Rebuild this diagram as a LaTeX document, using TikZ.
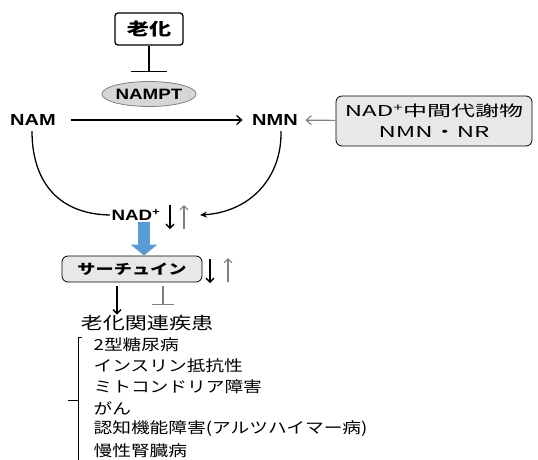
\documentclass[tikz,border=0pt]{standalone}
\usepackage{fontspec}
\setmainfont{Liberation Sans}
\newfontfamily\lat{Liberation Sans}[FakeStretch=1.25]
\newfontfamily\jp{Noto Sans CJK JP}[FakeStretch=1.3]
\newfontfamily\jpl{Noto Sans CJK JP}[FakeStretch=1.23]
\newfontfamily\jpw{Noto Sans CJK JP}[FakeStretch=1.6]
\usetikzlibrary{arrows.meta,shapes.geometric,positioning}

\definecolor{boxgray}{RGB}{232,232,232}
\definecolor{ovalgray}{RGB}{214,214,214}
\definecolor{arrgray}{RGB}{128,128,128}
\definecolor{sirtblue}{RGB}{91,155,213}

\tikzset{
  mol/.style={font=\lat\bfseries\fontsize{16}{18}\selectfont, inner sep=1pt},
  graybox/.style={draw, rounded corners=6pt, fill=boxgray, line width=0.8pt},
  barb/.style={-{Straight Barb[length=5pt,width=9pt]}},
  updown/.style={line width=1.4pt, -{Straight Barb[length=4pt,width=8pt]}},
  item/.style={anchor=west, inner sep=0pt, font=\jpl\fontsize{15.2}{15.2}\selectfont},
}

\begin{document}
\begin{tikzpicture}[x=1pt,y=-1pt,line width=1.3pt]
\useasboundingbox (0,0) rectangle (538,459);

% aging and NAMPT
\node[draw, rounded corners=3pt, minimum width=68pt, minimum height=32pt,
      font=\jp\bfseries\fontsize{17}{17}\selectfont] (aging) at (149,29) {老化};
\node[ellipse, draw=arrgray, line width=0.8pt, fill=ovalgray, minimum width=88pt,
      minimum height=25pt, inner sep=0pt,
      font=\lat\bfseries\fontsize{15}{15}\selectfont] (nampt) at (149,94) {NAMPT};
\coordinate (agingbar) at (149,72);
\draw[-{Bar[width=36pt]}] (aging) -- (agingbar);

% NAM -> NMN
\node[mol] (nam) at (33,120) {NAM};
\node[mol] (nmn) at (275,120) {NMN};
\draw[barb, shorten <=14pt, shorten >=8pt] (nam) -- (nmn);

\node[graybox, minimum width=196pt, minimum height=50pt, align=center,
      font=\jpw\fontsize{15}{21}\selectfont] (precursor) at (434,121)
      {NAD\textsuperscript{+}中間代謝物\\NMN・NR};
\draw[barb, arrgray, line width=1.2pt, shorten >=6pt] (precursor) -- (nmn);

% salvage loop
\node[mol, font=\lat\bfseries\fontsize{15}{16}\selectfont] (nad) at (136,215) {NAD\textsuperscript{+}};
\coordinate (nadin) at (200,215);
\draw (nam.south) ++(-1,4) .. controls (32,178) and (55,214) .. (nad.west);
\draw[-{Stealth[length=7pt,width=6pt]}] (nmn.south) ++(6,4) .. controls (282,178) and (250,212) .. (nadin);

% NAD+ level
\coordinate (nadd) at (170,205);
\coordinate (nadu) at (184,229);
\draw[updown] (nadd) -- ++(0,24);
\draw[updown, arrgray, line width=1.1pt] (nadu) -- ++(0,-24);

% sirtuin
\node[graybox, minimum width=140pt, minimum height=26pt,
      font=\jp\bfseries\fontsize{14}{14}\selectfont] (sirt) at (132,269) {サーチュイン};
\draw[sirtblue, line width=12pt, -{Triangle[width=26pt,length=11pt]}]
     (nad.south -| sirt.north) ++(12,0) -- ([xshift=12pt]sirt.north);

\coordinate (sirtd) at (210,259);
\coordinate (sirtu) at (228,282);
\draw[updown] (sirtd) -- ++(0,24);
\draw[updown, arrgray, line width=1.1pt] (sirtu) -- ++(0,-24);

% diseases
\node[anchor=west, inner sep=0pt, font=\jp\fontsize{17}{17}\selectfont] (disease) at (80,323) {老化関連疾患};
\coordinate (promote) at (117,286);
\coordinate (inhibit) at (163,286);
\draw[updown] (promote) -- (promote |- disease.north);
\draw[arrgray, line width=1.1pt, -{Bar[width=22pt]}] (inhibit) -- ++(0,19);

\node[item] (d1) at (93,345) {2型糖尿病};
\node[item] (d2) at (93,366) {インスリン抵抗性};
\node[item] (d3) at (93,387) {ミトコンドリア障害};
\node[item] (d4) at (93,408) {がん};
\node[item] (d5) at (93,429) {認知機能障害(アルツハイマー病)};
\node[item] (d6) at (93,451) {慢性腎臓病};
\draw[line width=0.9pt] (82,337) -- (78,337) -- (78,470);
\draw[line width=0.9pt] (78,400) -- (68,400);

\end{tikzpicture}
\end{document}
